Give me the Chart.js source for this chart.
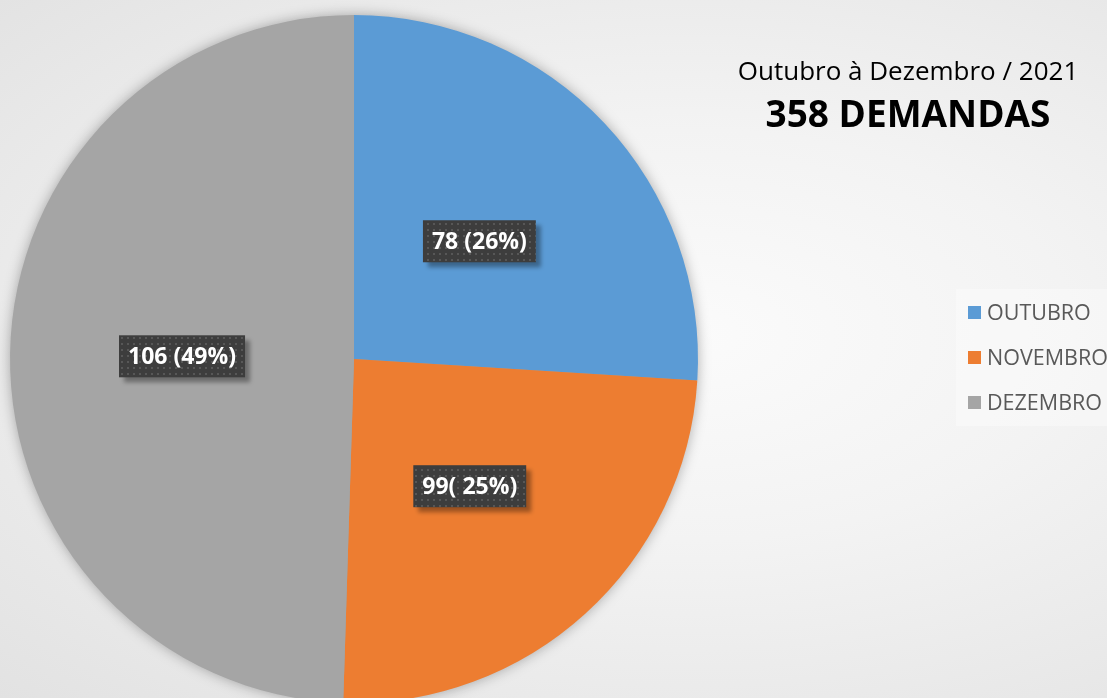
<!DOCTYPE html>
<html>
<head>
<meta charset="utf-8">
<script src="https://cdn.jsdelivr.net/npm/chart.js@4.4.0/dist/chart.umd.min.js"></script>
<style>
    html, body {
        margin: 0;
        padding: 0;
        width: 1107px;
        height: 698px;
        overflow: hidden;
        background: radial-gradient(ellipse at 62% 48%, #fbfbfb 0%, #f3f3f3 40%, #e2e2e2 100%);
    }
    #wrap {
        position: absolute;
        left: 0;
        top: 0;
        width: 1107px;
        height: 703px;
    }
</style>
</head>
<body>
<div id="wrap"><canvas id="myChart"></canvas></div>
<script>
// dados do gráfico
const categories = ['OUTUBRO', 'NOVEMBRO', 'DEZEMBRO'];
const shares = [26, 24.5, 49.5];
const sliceLabels = ['78 (26%)', '99( 25%)', '106 (49%)'];
const sliceColors = ['#5B9BD5', '#ED7D31', '#A5A5A5'];
const subtitle = 'Outubro à Dezembro / 2021';
const headline = '358 DEMANDAS';

const FONT = '"Open Sans", "Noto Sans", sans-serif';

function makeDotPattern(ctx) {
    const p = document.createElement('canvas');
    p.width = 6;
    p.height = 6;
    const pc = p.getContext('2d');
    pc.fillStyle = '#3d3d3d';
    pc.fillRect(0, 0, 6, 6);
    pc.fillStyle = '#575757';
    pc.fillRect(1, 1, 2, 2);
    return ctx.createPattern(p, 'repeat');
}

// sombra por trás da pizza
const pieShadow = {
    id: 'pieShadow',
    beforeDatasetsDraw(chart) {
        const arc = chart.getDatasetMeta(0).data[0];
        if (!arc) return;
        const ctx = chart.ctx;
        ctx.save();
        ctx.shadowColor = 'rgba(0,0,0,0.35)';
        ctx.shadowBlur = 14;
        ctx.fillStyle = '#a0a0a0';
        ctx.beginPath();
        ctx.arc(arc.x, arc.y, arc.outerRadius - 1, 0, Math.PI * 2);
        ctx.fill();
        ctx.restore();
    }
};

// rótulos das fatias, título e legenda
const decorations = {
    id: 'decorations',
    afterDraw(chart) {
        const ctx = chart.ctx;
        const meta = chart.getDatasetMeta(0);
        const pattern = makeDotPattern(ctx);

        ctx.save();
        ctx.font = 'bold 23px ' + FONT;
        ctx.textAlign = 'center';
        ctx.textBaseline = 'middle';
        meta.data.forEach((arc, i) => {
            const pos = arc.tooltipPosition();
            const text = sliceLabels[i];
            const w = ctx.measureText(text).width + 18;
            const h = 42;
            ctx.save();
            ctx.shadowColor = 'rgba(0,0,0,0.35)';
            ctx.shadowBlur = 4;
            ctx.shadowOffsetX = 5;
            ctx.shadowOffsetY = 5;
            ctx.fillStyle = pattern;
            ctx.fillRect(pos.x - w / 2, pos.y - h / 2, w, h);
            ctx.restore();
            ctx.fillStyle = '#ffffff';
            ctx.fillText(text, pos.x, pos.y + 1);
        });
        ctx.restore();

        // título
        ctx.save();
        ctx.textAlign = 'center';
        ctx.textBaseline = 'middle';
        ctx.fillStyle = '#000000';
        ctx.font = '26px ' + FONT;
        ctx.fillText(subtitle, 908, 73);
        ctx.font = 'bold 37px ' + FONT;
        ctx.fillText(headline, 908, 116);
        ctx.restore();

        // legenda
        ctx.save();
        ctx.fillStyle = 'rgba(255,255,255,0.35)';
        ctx.fillRect(956, 289, 151, 137);
        ctx.font = '21.5px ' + FONT;
        ctx.textAlign = 'left';
        ctx.textBaseline = 'middle';
        categories.forEach((cat, i) => {
            const y = 313 + i * 45;
            ctx.fillStyle = sliceColors[i];
            ctx.fillRect(968, y - 7, 13, 13);
            ctx.fillStyle = '#595959';
            ctx.fillText(cat, 987, y + 1);
        });
        ctx.restore();
    }
};

document.addEventListener('DOMContentLoaded', function() {
    const ctx = document.getElementById('myChart').getContext('2d');
    window.chartInstance = new Chart(ctx, {
        type: 'pie',
        data: {
            labels: categories,
            datasets: [{
                data: shares,
                backgroundColor: sliceColors,
                borderWidth: 0,
                hoverOffset: 0,
                offset: 0
            }]
        },
        options: {
            responsive: true,
            maintainAspectRatio: false,
            animation: false,
            events: [],
            layout: {
                padding: { left: 10, top: 15, right: 409, bottom: 0 }
            },
            plugins: {
                legend: { display: false },
                tooltip: { enabled: false },
                title: { display: false }
            }
        },
        plugins: [pieShadow, decorations]
    });
});
</script>
</body>
</html>
